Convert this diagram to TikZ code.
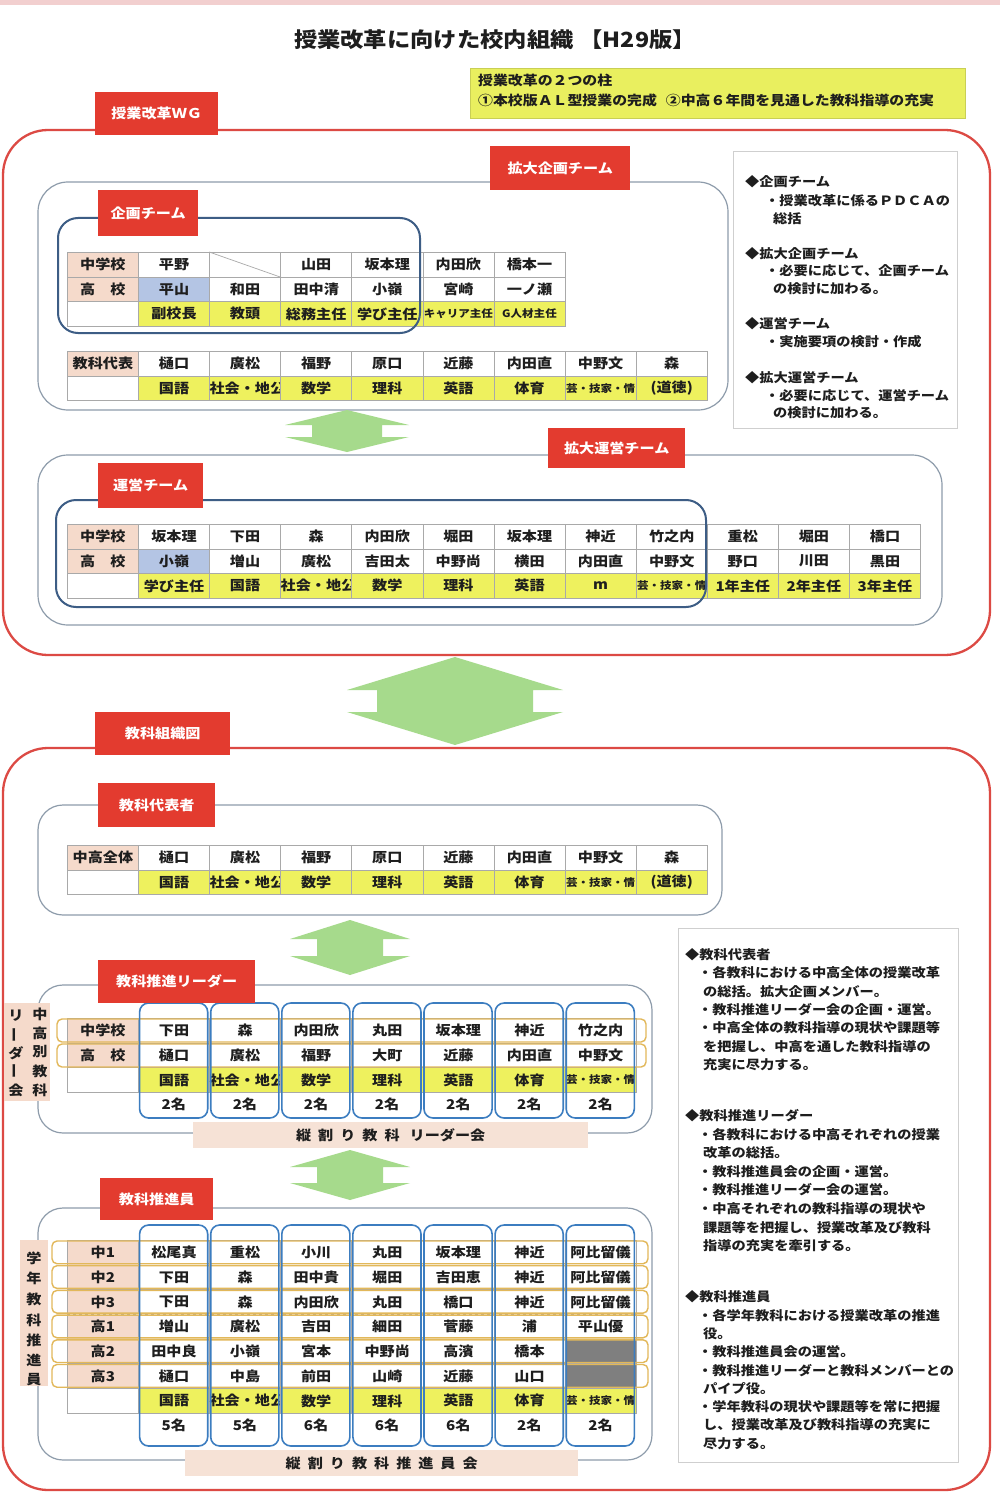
\documentclass[tikz,border=0pt]{standalone}
\usepackage{fontspec}
\setmainfont{Noto Sans CJK JP}[FakeStretch=1.12]
\newcommand\mytab{\fontsize{13.5}{15}\selectfont\bfseries}
\newcommand\mysmall{\fontsize{10.3}{11}\selectfont}
\newcommand\mylab{\fontsize{13.5}{15}\selectfont\bfseries}
\newcommand\mydesc{\fontsize{12.7}{15}\selectfont\bfseries}
\newcommand\mytitle{\fontsize{20.8}{24}\selectfont\bfseries}
\definecolor{peach}{HTML}{F5DACB}
\definecolor{lblue}{HTML}{B4C5E4}
\definecolor{yel}{HTML}{EEF15E}
\definecolor{gcell}{HTML}{7F7F7F}
\definecolor{gridc}{HTML}{A9A9A9}
\definecolor{labred}{HTML}{E33B2F}
\definecolor{framered}{HTML}{DC4A44}
\definecolor{framegray}{HTML}{8E9CAB}
\definecolor{navy}{HTML}{3D5D85}
\definecolor{colblue}{HTML}{3C7DC0}
\definecolor{rowgold}{HTML}{E2B85A}
\definecolor{arrowgreen}{HTML}{A6DA8C}
\definecolor{descbord}{HTML}{CFCFCF}
\definecolor{ybox}{HTML}{E9EF5F}
\definecolor{ybord}{HTML}{C9CF55}
\definecolor{toppink}{HTML}{F2CFCF}
\definecolor{bandpeach}{HTML}{F6E2D6}
\definecolor{txt}{HTML}{1E1E1E}
\tikzset{
  cell/.style={draw=gridc, line width=0.7pt, minimum width=71.1pt, minimum height=24.6pt, inner sep=0pt, anchor=north west, font=\mytab, text=txt},
  cnt/.style={minimum width=71.1pt, minimum height=24.6pt, inner sep=0pt, anchor=north west, font=\mytab, text=txt},
  redlab/.style={fill=labred, text=white, inner sep=0pt, anchor=north west, font=\mylab},
  redframe/.style={draw=framered, line width=2.3pt},
  grayframe/.style={draw=framegray, line width=1.2pt},
  navyframe/.style={draw=navy, line width=2pt},
  colbox/.style={draw=colblue, line width=1.6pt, rounded corners=9pt},
  rowbox/.style={draw=rowgold, line width=1.4pt, rounded corners=5pt},
  desc/.style={anchor=west, inner sep=0pt, font=\mydesc, text=txt},
  vchar/.style={inner sep=0pt, font=\mytab, text=txt},
  band/.style={fill=bandpeach, inner sep=0pt, anchor=north west, font=\mytab, text=txt},
}
\newcommand\tabrow[3]{%
  \foreach \f/\t [count=\i from 0] in {#3} {
    \node[cell, fill=\f] (#1c\i) at ({67+\i*71.1},#2) {\t};
  }}
\newcommand\dblarrow[6]{%
  \fill[arrowgreen] (#1,#2) -- (#1+#4,#2+#6) -- (#1+#5,#2+#6) -- (#1+#5,#3-#6) -- (#1+#4,#3-#6) -- (#1,#3) -- (#1-#4,#3-#6) -- (#1-#5,#3-#6) -- (#1-#5,#2+#6) -- (#1-#4,#2+#6) -- cycle;}
\begin{document}
\begin{tikzpicture}[x=1pt,y=-1pt]
\useasboundingbox (0,0) rectangle (1000,1506);
\fill[white] (0,0) rectangle (1000,1506);
\fill[toppink] (0,0) rectangle (1000,5);

% title and pillars
\node[font=\mytitle, inner sep=0pt, text=txt] (title) at (495,40) {授業改革に向けた校内組織\hspace{6pt}【H29版】};
\node[draw=ybord, fill=ybox, anchor=north west, minimum width=495pt, minimum height=50pt, inner sep=0pt] (pillars) at (470,68) {};
\node[desc, font=\fontsize{13.3}{15}\selectfont\bfseries] (pill1) at (478,80) {授業改革の２つの柱};
\node[desc, font=\fontsize{13.3}{15}\selectfont\bfseries] (pill2) at (478,100) {①本校版ＡＬ型授業の完成\hspace{9pt}②中高６年間を見通した教科指導の充実};

% ===== upper section =====
\draw[redframe, rounded corners=45pt] (3,130) rectangle (990,655);
\draw[grayframe, rounded corners=30pt] (38,182) rectangle (728,410);
\draw[grayframe, rounded corners=30pt] (38,455) rectangle (942,625);

% table 1
\tabrow{ta1}{252}{peach/中学校, white/平野, white/, white/山田, white/坂本理, white/内田欣, white/橋本一}
\tabrow{ta2}{276.6}{peach/高　校, lblue/平山, white/和田, white/田中清, white/小嶺, white/宮崎, white/一ノ瀬}
\tabrow{ta3}{301.2}{white/, yel/副校長, yel/教頭, yel/総務主任, yel/学び主任, yel/{\mysmall キャリア主任}, yel/{\mysmall G人材主任}}
\draw[gridc, line width=0.7pt] (ta1c2.north west) -- (ta1c2.south east);

% table 2
\tabrow{tb1}{351}{peach/教科代表, white/樋口, white/廣松, white/福野, white/原口, white/近藤, white/内田直, white/中野文, white/森}
\tabrow{tb2}{375.6}{white/, yel/国語, yel/社会・地公, yel/数学, yel/理科, yel/英語, yel/体育, yel/{\mysmall 芸・技家・情}, yel/(道徳)}

% table 3
\tabrow{tc1}{524}{peach/中学校, white/坂本理, white/下田, white/森, white/内田欣, white/堀田, white/坂本理, white/神近, white/竹之内, white/重松, white/堀田, white/橋口}
\tabrow{tc2}{548.6}{peach/高　校, lblue/小嶺, white/増山, white/廣松, white/吉田太, white/中野尚, white/横田, white/内田直, white/中野文, white/野口, white/川田, white/黒田}
\tabrow{tc3}{573.2}{white/, yel/学び主任, yel/国語, yel/社会・地公, yel/数学, yel/理科, yel/英語, yel/m, yel/{\mysmall 芸・技家・情}, yel/1年主任, yel/2年主任, yel/3年主任}

\draw[navyframe, rounded corners=20pt] (58,218) rectangle (420,333);
\draw[navyframe, rounded corners=20pt] (56,500) rectangle (706,607);

\node[redlab, minimum width=123pt, minimum height=43pt] (wg) at (95,92) {授業改革ＷＧ};
\node[redlab, minimum width=140pt, minimum height=44pt] (kakudai) at (490,146) {拡大企画チーム};
\node[redlab, minimum width=100pt, minimum height=46pt] (kikaku) at (98,190) {企画チーム};
\node[redlab, minimum width=137pt, minimum height=40pt] (kakuun) at (548,428) {拡大運営チーム};
\node[redlab, minimum width=105pt, minimum height=45pt] (unei) at (98,463) {運営チーム};

\dblarrow{347}{410}{452}{62}{35}{15}

% right box 1
\draw[descbord, line width=1pt] (733,152) rectangle (957,428);
\foreach \yy/\xx/\t [count=\i] in {182/745/◆企画チーム, 201/765/・授業改革に係るＰＤＣＡの, 219/773/総括, 254/745/◆拡大企画チーム, 271/765/・必要に応じて、企画チーム, 289/773/の検討に加わる。, 324/745/◆運営チーム, 342/765/・実施要項の検討・作成, 378/745/◆拡大運営チーム, 396/765/・必要に応じて、運営チーム, 413/773/の検討に加わる。}
  \node[desc] (da\i) at (\xx,\yy) {\t};

% big arrow
\dblarrow{455}{657}{745}{108}{78}{33}

% ===== lower section =====
\draw[redframe, rounded corners=45pt] (3,748) rectangle (990,1490);
\draw[grayframe, rounded corners=25pt] (38,805) rectangle (722,915);
\draw[grayframe, rounded corners=25pt] (38,985) rectangle (652,1133);
\draw[grayframe, rounded corners=25pt] (38,1208) rectangle (652,1460);

% table 4
\tabrow{td1}{845}{peach/中高全体, white/樋口, white/廣松, white/福野, white/原口, white/近藤, white/内田直, white/中野文, white/森}
\tabrow{td2}{869.6}{white/, yel/国語, yel/社会・地公, yel/数学, yel/理科, yel/英語, yel/体育, yel/{\mysmall 芸・技家・情}, yel/(道徳)}

\dblarrow{350}{920}{975}{60}{33}{19}

% leader table
\tabrow{te1}{1018}{peach/中学校, white/下田, white/森, white/内田欣, white/丸田, white/坂本理, white/神近, white/竹之内}
\tabrow{te2}{1042.7}{peach/高　校, white/樋口, white/廣松, white/福野, white/大町, white/近藤, white/内田直, white/中野文}
\tabrow{te3}{1067.4}{white/, yel/国語, yel/社会・地公, yel/数学, yel/理科, yel/英語, yel/体育, yel/{\mysmall 芸・技家・情}}
\foreach \i in {1,...,7} \node[cnt] (te4c\i) at ({67+\i*71.1},1092.1) {2名};
\draw[rowbox] (57,1019) rectangle (646,1042);
\draw[rowbox] (57,1044) rectangle (646,1067);
\foreach \i in {1,...,7} \draw[colbox] ({67+\i*71.1+1.5},1003) rectangle ({67+(\i+1)*71.1-1.5},1118);

\node[fill=peach, anchor=north west, minimum width=46pt, minimum height=98pt, inner sep=0pt] (vlab1) at (4,1003) {};
\foreach \yy/\t [count=\i] in {1014/中, 1033/高, 1052/別, 1071/教, 1090/科}
  \node[vchar] (vr\i) at (40,\yy) {\t};
\node[vchar] (vl1) at (16,1016) {リ};
\node[vchar, rotate=90] (vl2) at (16,1035) {ー};
\node[vchar] (vl3) at (16,1053) {ダ};
\node[vchar, rotate=90] (vl4) at (16,1071) {ー};
\node[vchar] (vl5) at (16,1090) {会};

\node[band, minimum width=395pt, minimum height=26pt] (band1) at (193,1122) {縦\hspace{7pt}割\hspace{7pt}り\hspace{7pt}教\hspace{7pt}科\hspace{10pt}リーダー会};

\dblarrow{350}{1150}{1200}{60}{33}{17}

% members table
\tabrow{tf1}{1240}{peach/中1, white/松尾真, white/重松, white/小川, white/丸田, white/坂本理, white/神近, white/阿比留儀}
\tabrow{tf2}{1264.7}{peach/中2, white/下田, white/森, white/田中貴, white/堀田, white/吉田恵, white/神近, white/阿比留儀}
\tabrow{tf3}{1289.4}{peach/中3, white/下田, white/森, white/内田欣, white/丸田, white/橋口, white/神近, white/阿比留儀}
\tabrow{tf4}{1314.1}{peach/高1, white/増山, white/廣松, white/吉田, white/細田, white/菅藤, white/浦, white/平山優}
\tabrow{tf5}{1338.8}{peach/高2, white/田中良, white/小嶺, white/宮本, white/中野尚, white/高濱, white/橋本, gcell/}
\tabrow{tf6}{1363.5}{peach/高3, white/樋口, white/中島, white/前田, white/山崎, white/近藤, white/山口, gcell/}
\tabrow{tf7}{1388.2}{white/, yel/国語, yel/社会・地公, yel/数学, yel/理科, yel/英語, yel/体育, yel/{\mysmall 芸・技家・情}}
\foreach \n [count=\i] in {5名, 5名, 6名, 6名, 6名, 2名, 2名} \node[cnt] (tf8c\i) at ({67+\i*71.1},1412.9) {\n};
\draw[white, line width=1pt] (68,1314.1) -- (635,1314.1);
\draw[gridc, dashed, line width=0.9pt] (67,1314.1) -- (636,1314.1);
\foreach \r in {0,...,5} \draw[rowbox] (52,{1241+\r*24.7}) rectangle (648,{1263.7+\r*24.7});
\foreach \i in {1,...,7} \draw[colbox] ({67+\i*71.1+1.5},1225) rectangle ({67+(\i+1)*71.1-1.5},1446);

\node[fill=peach, anchor=north west, minimum width=28pt, minimum height=146pt, inner sep=0pt] (vlab2) at (20,1240) {};
\foreach \yy/\t [count=\i] in {1258/学, 1278/年, 1299/教, 1320/科, 1340/推, 1360/進, 1380/員}
  \node[vchar] (vg\i) at (34,\yy) {\t};

\node[band, minimum width=393pt, minimum height=26pt] (band2) at (185,1450) {縦\hspace{7pt}割\hspace{7pt}り\hspace{7pt}教\hspace{7pt}科\hspace{7pt}推\hspace{7pt}進\hspace{7pt}員\hspace{7pt}会};

\node[redlab, minimum width=135pt, minimum height=43pt] (soshiki) at (95,712) {教科組織図};
\node[redlab, minimum width=117pt, minimum height=44pt] (daihyo) at (98,783) {教科代表者};
\node[redlab, minimum width=157pt, minimum height=43pt] (leader) at (98,960) {教科推進リーダー};
\node[redlab, minimum width=113pt, minimum height=42pt] (suishin) at (100,1178) {教科推進員};

% right box 2
\draw[descbord, line width=1pt] (678,928) rectangle (958,1462);
\foreach \yy/\xx/\t [count=\i] in {955/685/◆教科代表者, 973/698/・各教科における中高全体の授業改革, 991.5/703/の総括。拡大企画メンバー。, 1010/698/・教科推進リーダー会の企画・運営。, 1028/698/・中高全体の教科指導の現状や課題等, 1046.5/703/を把握し、中高を通した教科指導の, 1065/703/充実に尽力する。, 1116/685/◆教科推進リーダー, 1135/698/・各教科における中高それぞれの授業, 1153/703/改革の総括。, 1172/698/・教科推進員会の企画・運営。, 1190/698/・教科推進リーダー会の運営。, 1209/698/・中高それぞれの教科指導の現状や, 1228/703/課題等を把握し、授業改革及び教科, 1246/703/指導の充実を牽引する。, 1297/685/◆教科推進員, 1316/698/・各学年教科における授業改革の推進, 1334/703/役。, 1352/698/・教科推進員会の運営。, 1371/698/・教科推進リーダーと教科メンバーとの, 1389/703/パイプ役。, 1407/698/・学年教科の現状や課題等を常に把握, 1425/703/し、授業改革及び教科指導の充実に, 1444/703/尽力する。}
  \node[desc] (db\i) at (\xx,\yy) {\t};
\end{tikzpicture}
\end{document}
